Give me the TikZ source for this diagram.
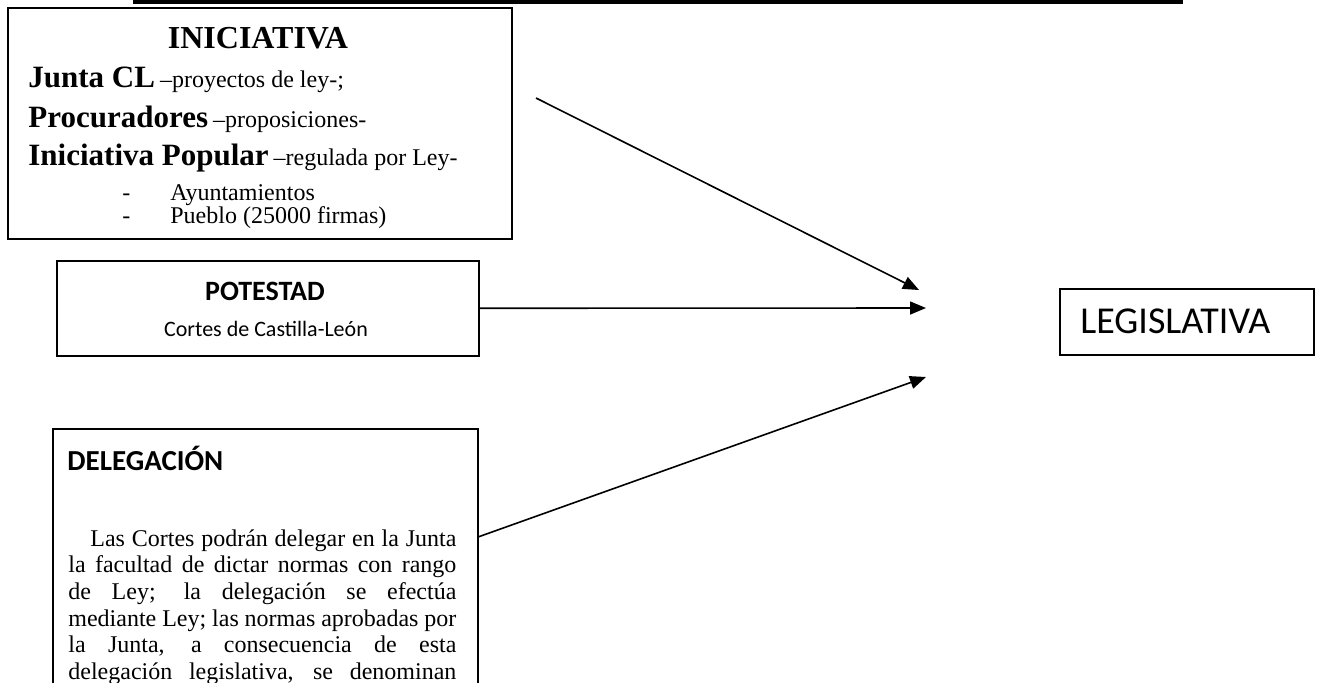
\documentclass[tikz,border=0pt]{standalone}
\usepackage{fontspec}
\setmainfont{Liberation Serif}
\newfontfamily\calibri{Carlito}
\usetikzlibrary{arrows.meta,positioning}
\tikzset{
  caja/.style={draw,line width=0.75pt,inner sep=0pt,anchor=north west},
  flecha/.style={line width=0.8pt,-{Triangle[length=8pt,width=6.5pt]}},
  txt/.style={inner sep=0pt,anchor=base west},
}
\newcommand{\negr}[1]{{\fontsize{15.5}{18}\selectfont\bfseries #1}}
\newcommand{\norm}[1]{{\fontsize{12}{14}\selectfont #1}}
\begin{document}
\begin{tikzpicture}[x=0.5pt,y=-0.5pt]
    \useasboundingbox (0,0) rectangle (1318,682);
    \clip (0,0) rectangle (1318,682);
    \fill (133,0) rectangle (1183,3.5);
    \node[caja,minimum width=252pt,minimum height=115.5pt] (ini) at (7,7) {};
    \node[caja,minimum width=211pt,minimum height=47.5pt] (pot) at (56,260) {};
    \node[caja,minimum width=212.5pt,minimum height=150pt] (del) at (52,428) {};
    \node[caja,minimum width=127pt,minimum height=33pt] (leg) at (1059,288) {};
    \node[txt,anchor=base] (iniT) at (258,48) {\fontsize{16}{18}\selectfont\bfseries INICIATIVA};
    \node[txt] (junta) at (28,87) {\negr{Junta CL} \norm{–proyectos de ley-;}};
    \node[txt] (proc) at (28,127) {\negr{Procuradores} \norm{–proposiciones-}};
    \node[txt] (popu) at (28,165) {\negr{Iniciativa Popular} \norm{–regulada por Ley-}};
    \node[txt] (g1) at (122,200) {\norm{-}};
    \node[txt] (ayto) at (170,200) {\norm{Ayuntamientos}};
    \node[txt] (g2) at (122,223) {\norm{-}};
    \node[txt] (pueb) at (170,223) {\norm{Pueblo (25000 firmas)}};
    \node[txt,anchor=base] (potT) at (265,300) {\calibri\fontsize{14}{16}\selectfont\bfseries POTESTAD};
    \node[txt,anchor=base] (cortes) at (266,336) {\calibri\fontsize{11}{13}\selectfont Cortes de Castilla-León};
    \node[txt] (delT) at (67,470) {\calibri\fontsize{14.5}{16}\selectfont\bfseries DELEGACIÓN};
    \node[txt] (delB) at (68,546) {\parbox[t]{194pt}{\fontsize{12}{13.35}\selectfont
      \parindent=11pt\parfillskip=0pt\indent Las Cortes podrán delegar en la Junta\linebreak
      la facultad de dictar normas con rango\linebreak de Ley; la delegación se efectúa\linebreak
      mediante Ley; las normas aprobadas por\linebreak la Junta, a consecuencia de esta\linebreak
      delegación legislativa, se denominan}};
    \node[txt] (legT) at (1080,333) {\calibri\fontsize{19}{21}\selectfont LEGISLATIVA};
    \coordinate (a1) at (536,98);
    \coordinate (d1) at (478,537);
    \coordinate (p1) at (919,290);
    \coordinate (p2) at (926,308);
    \coordinate (p3) at (926,377);
    \draw[flecha] (a1) -- (p1);
    \draw[flecha] (pot.east) -- (p2);
    \draw[flecha] (d1) -- (p3);
\end{tikzpicture}
\end{document}
